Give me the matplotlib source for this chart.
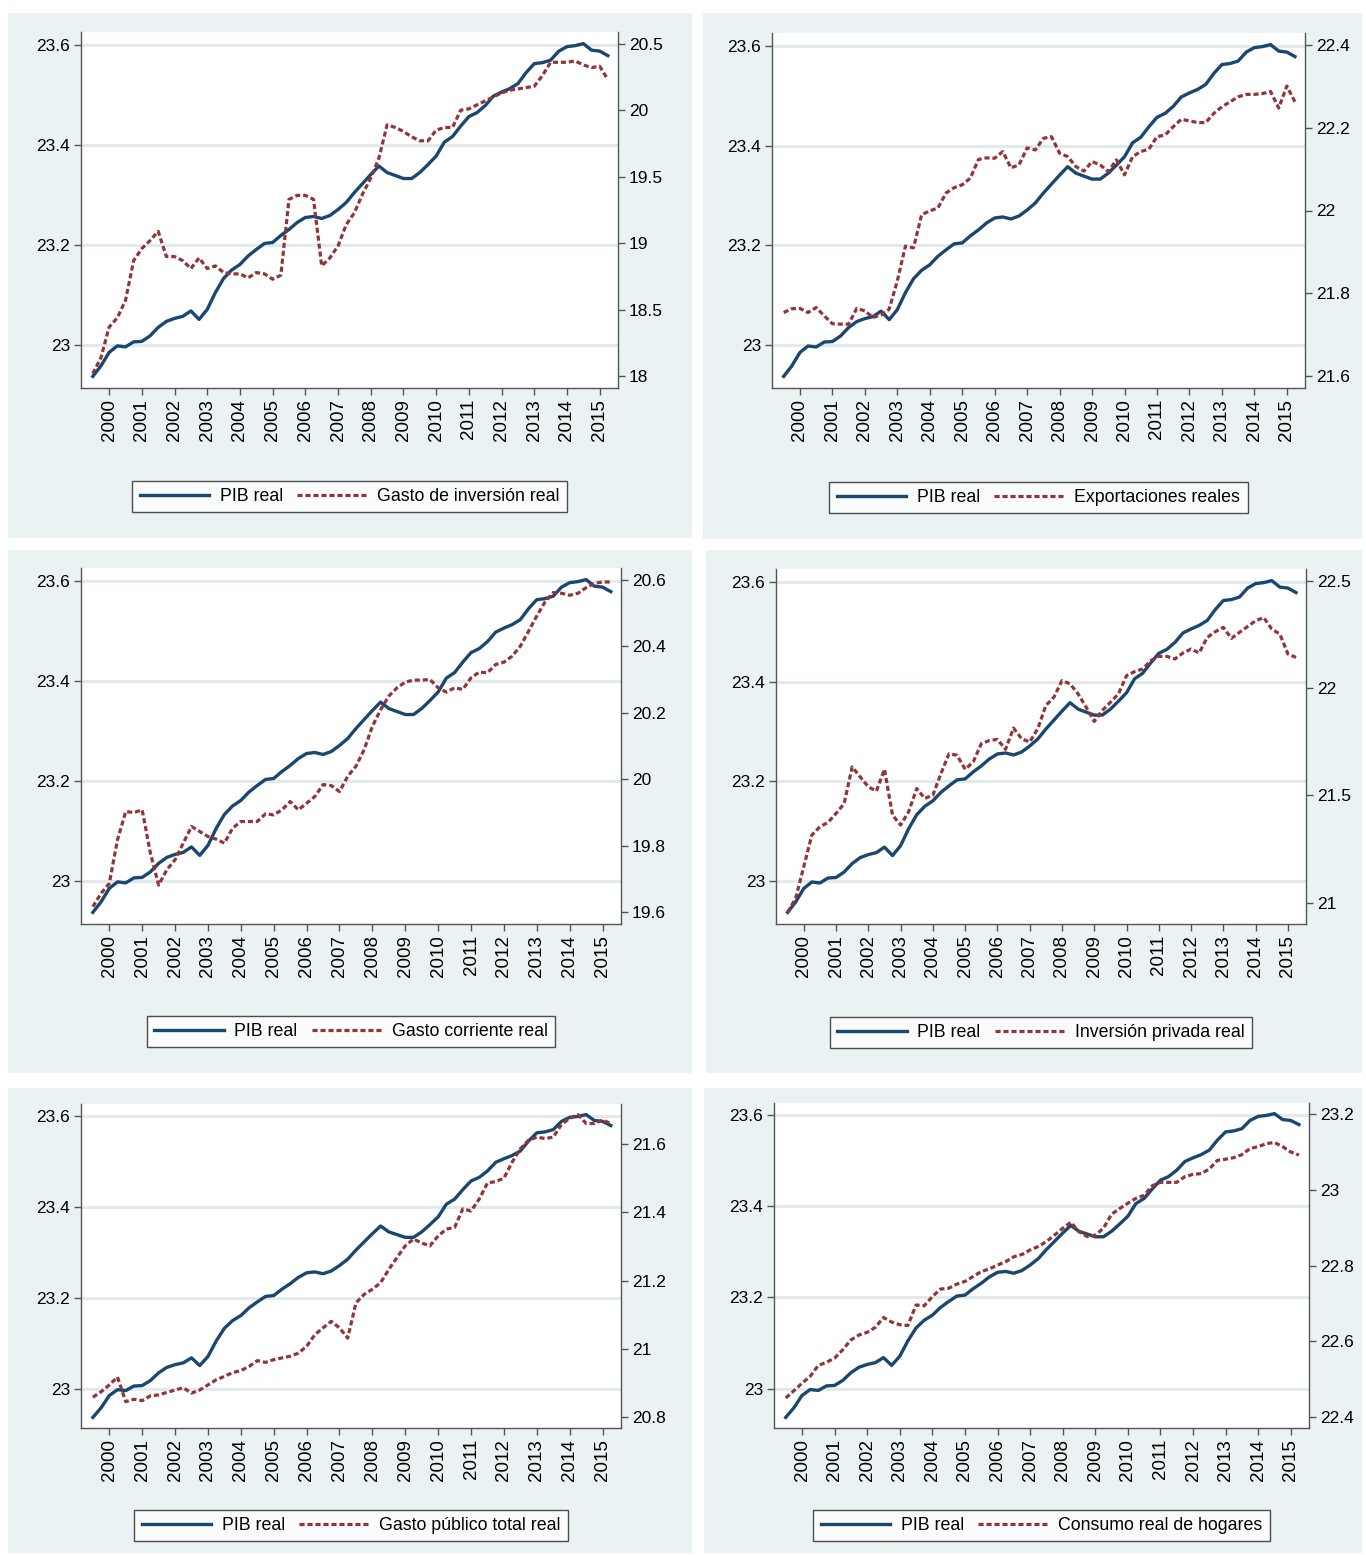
import matplotlib.pyplot as plt
import matplotlib.ticker as mticker
from matplotlib.patches import Rectangle
import pandas as pd

# quarterly data, 1999q3 - 2015q2
quarters = pd.period_range('1999Q3', '2015Q2', freq='Q')
x = quarters.year + (quarters.quarter - 1) / 4.0

# log real GDP (same line in every panel)
pib_real = [22.937, 22.958, 22.985, 22.998, 22.996, 23.006, 23.007, 23.018,
            23.035, 23.047, 23.053, 23.057, 23.068, 23.051, 23.071, 23.105,
            23.133, 23.150, 23.161, 23.178, 23.191, 23.203, 23.205, 23.219,
            23.231, 23.245, 23.255, 23.257, 23.253, 23.259, 23.271, 23.285,
            23.305, 23.323, 23.341, 23.358, 23.345, 23.339, 23.333, 23.333,
            23.345, 23.361, 23.378, 23.406, 23.417, 23.438, 23.457, 23.465,
            23.479, 23.498, 23.506, 23.513, 23.523, 23.545, 23.563, 23.565,
            23.570, 23.588, 23.597, 23.599, 23.603, 23.590, 23.588, 23.579]

gasto_inversion = [18.02, 18.14, 18.37, 18.44, 18.57, 18.87, 18.96, 19.02,
                   19.09, 18.90, 18.90, 18.87, 18.81, 18.89, 18.81, 18.83,
                   18.78, 18.77, 18.77, 18.74, 18.78, 18.77, 18.73, 18.76,
                   19.33, 19.36, 19.36, 19.33, 18.83, 18.89, 18.98, 19.14,
                   19.23, 19.37, 19.49, 19.64, 19.89, 19.87, 19.84, 19.80,
                   19.77, 19.77, 19.85, 19.87, 19.87, 20.00, 20.01, 20.04,
                   20.07, 20.10, 20.13, 20.15, 20.16, 20.17, 20.18, 20.26,
                   20.36, 20.36, 20.36, 20.37, 20.34, 20.32, 20.33, 20.23]

exportaciones = [21.754, 21.763, 21.764, 21.754, 21.766, 21.746, 21.727, 21.726,
                 21.726, 21.764, 21.758, 21.742, 21.748, 21.762, 21.830, 21.914,
                 21.910, 21.990, 21.999, 22.006, 22.042, 22.055, 22.062, 22.078,
                 22.123, 22.127, 22.126, 22.142, 22.103, 22.110, 22.151, 22.146,
                 22.174, 22.178, 22.138, 22.130, 22.106, 22.095, 22.118, 22.110,
                 22.094, 22.122, 22.086, 22.130, 22.142, 22.148, 22.178, 22.182,
                 22.202, 22.220, 22.216, 22.212, 22.212, 22.234, 22.250, 22.262,
                 22.274, 22.280, 22.280, 22.282, 22.287, 22.247, 22.300, 22.262]

gasto_corriente = [19.617, 19.657, 19.687, 19.818, 19.903, 19.900, 19.908, 19.778,
                   19.682, 19.728, 19.758, 19.808, 19.858, 19.843, 19.828, 19.820,
                   19.808, 19.853, 19.873, 19.873, 19.873, 19.896, 19.893, 19.908,
                   19.933, 19.908, 19.928, 19.948, 19.984, 19.981, 19.963, 20.009,
                   20.039, 20.089, 20.159, 20.209, 20.250, 20.275, 20.292, 20.298,
                   20.298, 20.300, 20.275, 20.262, 20.275, 20.270, 20.305, 20.322,
                   20.320, 20.345, 20.352, 20.370, 20.400, 20.445, 20.491, 20.533,
                   20.561, 20.559, 20.553, 20.559, 20.576, 20.589, 20.593, 20.593]

inversion_privada = [20.954, 21.020, 21.167, 21.314, 21.353, 21.373, 21.415, 21.461,
                     21.632, 21.585, 21.539, 21.519, 21.621, 21.407, 21.361, 21.423,
                     21.531, 21.485, 21.500, 21.601, 21.693, 21.686, 21.621, 21.655,
                     21.740, 21.755, 21.760, 21.714, 21.813, 21.763, 21.748, 21.810,
                     21.918, 21.957, 22.034, 22.019, 21.972, 21.910, 21.844, 21.895,
                     21.933, 21.972, 22.057, 22.076, 22.088, 22.127, 22.147, 22.147,
                     22.135, 22.163, 22.181, 22.163, 22.235, 22.262, 22.282, 22.231,
                     22.259, 22.286, 22.313, 22.328, 22.274, 22.251, 22.158, 22.142]

gasto_publico = [20.859, 20.875, 20.895, 20.918, 20.846, 20.853, 20.849, 20.863,
                 20.866, 20.873, 20.880, 20.887, 20.871, 20.880, 20.895, 20.910,
                 20.920, 20.931, 20.937, 20.949, 20.966, 20.961, 20.969, 20.974,
                 20.979, 20.988, 21.008, 21.042, 21.062, 21.081, 21.062, 21.032,
                 21.135, 21.160, 21.175, 21.194, 21.233, 21.268, 21.302, 21.322,
                 21.310, 21.302, 21.331, 21.351, 21.356, 21.410, 21.404, 21.439,
                 21.486, 21.490, 21.500, 21.547, 21.586, 21.611, 21.620, 21.616,
                 21.620, 21.657, 21.675, 21.686, 21.660, 21.660, 21.670, 21.660]

consumo_hogares = [22.451, 22.470, 22.490, 22.508, 22.537, 22.545, 22.556, 22.578,
                   22.604, 22.617, 22.624, 22.637, 22.663, 22.651, 22.644, 22.642,
                   22.696, 22.694, 22.718, 22.738, 22.740, 22.751, 22.758, 22.771,
                   22.784, 22.791, 22.801, 22.810, 22.823, 22.829, 22.841, 22.850,
                   22.863, 22.880, 22.898, 22.914, 22.889, 22.876, 22.880, 22.898,
                   22.935, 22.950, 22.964, 22.977, 22.985, 23.010, 23.019, 23.019,
                   23.019, 23.034, 23.040, 23.042, 23.054, 23.077, 23.080, 23.084,
                   23.092, 23.108, 23.113, 23.121, 23.124, 23.113, 23.099, 23.091]

other_series = [gasto_inversion, exportaciones, gasto_corriente,
                inversion_privada, gasto_publico, consumo_hogares]
other_labels = ['Gasto de inversión real', 'Exportaciones reales',
                'Gasto corriente real', 'Inversión privada real',
                'Gasto público total real', 'Consumo real de hogares']

left_ticks = [23, 23.2, 23.4, 23.6]
right_ticks = [[18, 18.5, 19, 19.5, 20, 20.5],
               [21.6, 21.8, 22, 22.2, 22.4],
               [19.6, 19.8, 20, 20.2, 20.4, 20.6],
               [21, 21.5, 22, 22.5],
               [20.8, 21, 21.2, 21.4, 21.6],
               [22.4, 22.6, 22.8, 23, 23.2]]
year_ticks = list(range(2000, 2016))

# layout in pixels (x0, y0, x1, y1), top-left origin
W, H = 1366, 1555
panels_px = [(8, 13, 692, 538), (703, 13, 1362, 539),
             (8, 550, 692, 1073), (706, 550, 1362, 1073),
             (8, 1088, 692, 1553), (704, 1088, 1362, 1553)]
axes_px = [(81, 32, 618, 388), (772, 33, 1305, 388),
           (81, 568, 621, 924), (776, 569, 1306, 924),
           (81, 1104, 621, 1428), (774, 1103, 1309, 1428)]
legend_y = [496.5, 497.5, 1031.5, 1032.5, 1525.5, 1525.5]

NAVY = '#1A476F'
MAROON = '#90353B'
BG = '#EAF2F3'
GRID = '#E3EAEC'
AXC = '#555555'

plt.rcParams['font.family'] = ['Liberation Sans', 'DejaVu Sans']


def px_rect(x0, y0, x1, y1):
    return [x0 / W, 1 - y1 / H, (x1 - x0) / W, (y1 - y0) / H]


def padded(vals, ticks, frac=0.035):
    lo = min(min(vals), ticks[0])
    hi = max(max(vals), ticks[-1])
    pad = (hi - lo) * frac
    return lo - pad, hi + pad


fmt = mticker.FuncFormatter(lambda v, p: f'{v:g}')

fig = plt.figure(figsize=(W / 100, H / 100), dpi=100)

for i in range(6):
    # light graph region behind each panel
    px, py, pw, ph = px_rect(*panels_px[i])
    fig.add_artist(Rectangle((px, py), pw, ph, transform=fig.transFigure,
                             facecolor=BG, edgecolor='none', zorder=-5))

    ax = fig.add_axes(px_rect(*axes_px[i]))
    ax.set_facecolor('white')
    ax2 = ax.twinx()

    l1, = ax.plot(x, pib_real, color=NAVY, lw=2.4, solid_joinstyle='round')
    l2, = ax2.plot(x, other_series[i], color=MAROON, lw=2.3, ls=(0, (1.6, 0.9)))

    ax.set_xlim(x[0] - 0.36, x[-1] + 0.31)
    ax.set_ylim(*padded(pib_real, left_ticks))
    ax2.set_ylim(*padded(other_series[i], right_ticks[i]))

    ax.set_xticks(year_ticks)
    ax.set_xticklabels([str(y) for y in year_ticks], rotation=90)
    ax.set_yticks(left_ticks)
    ax.yaxis.set_major_formatter(fmt)
    ax2.set_yticks(right_ticks[i])
    ax2.yaxis.set_major_formatter(fmt)

    ax.yaxis.grid(True, color=GRID, lw=2.2)
    ax.set_axisbelow(True)

    for a in (ax, ax2):
        a.spines['top'].set_visible(False)
        for s in a.spines.values():
            s.set_color(AXC)
            s.set_linewidth(1.0)
        a.tick_params(direction='out', length=5, width=1, color=AXC,
                      labelsize=12.5, pad=3)
    ax.tick_params(axis='x', labelsize=13.5)
    ax.spines['right'].set_visible(False)
    ax2.spines['left'].set_visible(False)
    ax2.spines['bottom'].set_visible(False)

    ax0, _, ax1, _ = axes_px[i]
    leg = fig.legend([l1, l2], ['PIB real', other_labels[i]], loc='center',
                     bbox_to_anchor=((ax0 + ax1) / 2 / W, 1 - legend_y[i] / H),
                     bbox_transform=fig.transFigure, ncol=2, frameon=True,
                     fancybox=False, edgecolor='#222222', fontsize=12.8,
                     handlelength=3.9, columnspacing=0.8, handletextpad=0.6,
                     borderpad=0.42, borderaxespad=0)
    leg.get_frame().set_linewidth(1.0)

fig.savefig('out.png', dpi=100, facecolor='white')
